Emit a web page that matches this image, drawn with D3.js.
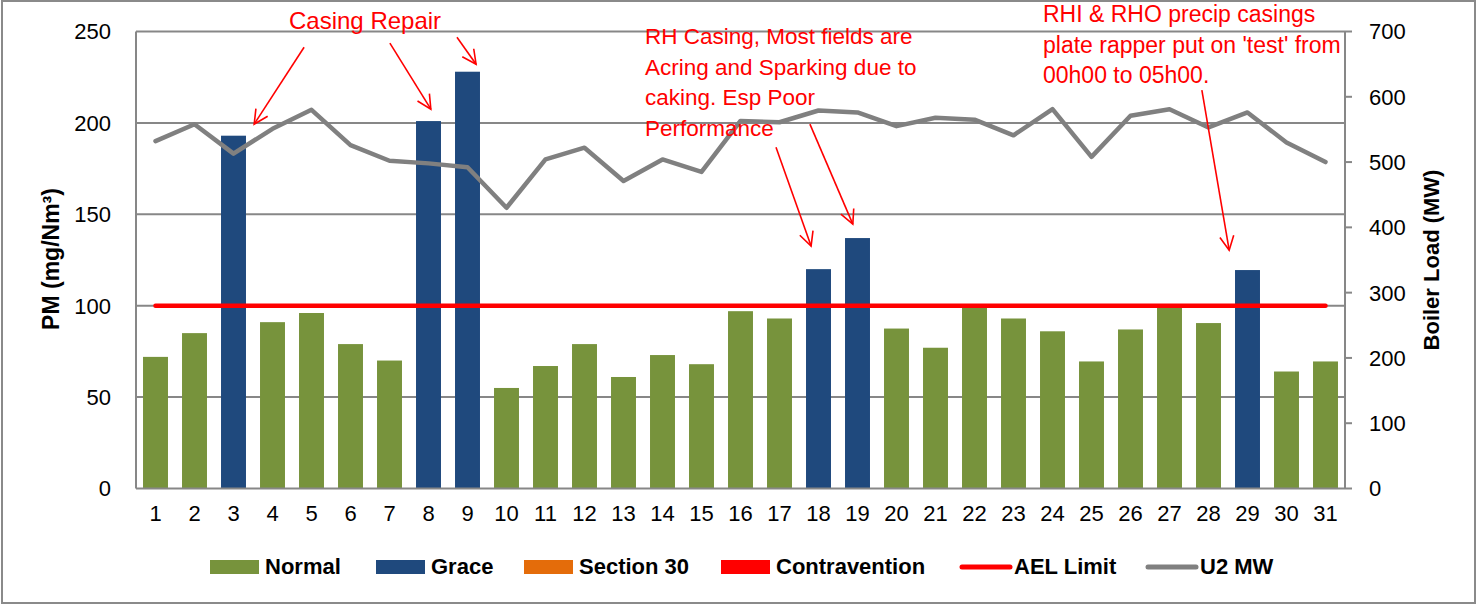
<!DOCTYPE html>
<html>
<head>
<meta charset="utf-8">
<script src="https://cdn.jsdelivr.net/npm/d3@7"></script>
<style>
  html, body { margin: 0; padding: 0; background: #fff; }
  svg { display: block; font-family: "Liberation Sans", Arial, sans-serif; }
</style>
</head>
<body>
<svg id="chart" width="1477" height="605"></svg>
<script>
// ---------------- DATA ----------------
const days = d3.range(1, 32).map(String);
const pmValues = [72, 85, 193, 91, 96, 79, 70, 201, 228, 55, 67, 79, 61, 73, 68, 97,
                  93, 120, 137, 87.5, 77, 99, 93, 86, 69.5, 87, 100, 90.5, 119.5, 64, 69.5];
const status = ["Normal","Normal","Grace","Normal","Normal","Normal","Normal","Grace","Grace","Normal",
                "Normal","Normal","Normal","Normal","Normal","Normal","Normal","Grace","Grace","Normal",
                "Normal","Normal","Normal","Normal","Normal","Normal","Normal","Normal","Grace","Normal","Normal"];
const mwValues = [532, 558, 513, 551, 580, 526, 502, 498, 492, 430, 504, 522, 471, 504, 485, 563,
                  561, 579, 576, 555, 568, 565, 541, 581, 508, 571, 581, 553, 576, 530, 500];
const aelLimit = 100;
const leftTicks = [0, 50, 100, 150, 200, 250];
const rightTicks = [0, 100, 200, 300, 400, 500, 600, 700];
const legendItems = ["Normal", "Grace", "Section 30", "Contravention", "AEL Limit", "U2 MW"];

// annotations: text lines and arrows given in (day, PM value) units
const annotations = [
  { lines: ["Casing Repair"], x: 289, y: 29, size: 24,
    arrows: [ [[4.81, 241.4], [3.53, 199.3]], [[7.01, 243.6], [8.06, 207.5]], [[8.73, 246.9], [9.22, 232.1]] ] },
  { lines: ["RH Casing, Most fields are", "Acring and Sparking due to", "caking. Esp Poor", "Performance"],
    x: 645, y: 44, size: 22.5,
    arrows: [ [[16.91, 186.7], [17.81, 132.6]], [[17.78, 199.3], [18.88, 144.6]] ] },
  { lines: ["RHI & RHO precip casings", "plate rapper put on 'test' from", "00h00 to 05h00."],
    x: 1043, y: 22, size: 23,
    arrows: [ [[27.83, 217.9], [28.53, 130.4]] ] }
];

// ---------------- STYLE ----------------
const colors = { Normal: "#77933C", Grace: "#1F497D", "Section 30": "#E46C0A",
                 Contravention: "#FF0000", "AEL Limit": "#FF0000", "U2 MW": "#808080" };
const gridColor = "#878787";
const margin = { left: 136, right: 1345, top: 31.5, bottom: 488.5 };

const svg = d3.select("#chart");

// border
svg.append("rect").attr("x", 2).attr("y", 1).attr("width", 1473).attr("height", 602)
  .attr("fill", "none").attr("stroke", "#8a8a8a").attr("stroke-width", 2);

// scales
const x = d3.scaleBand().domain(days).range([margin.left, margin.right])
  .paddingInner(0.36).paddingOuter(0.18);
const yL = d3.scaleLinear().domain([0, 250]).range([margin.bottom, margin.top]);
const yR = d3.scaleLinear().domain([0, 700]).range([margin.bottom, margin.top]);
const cx = d => x(d) + x.bandwidth() / 2;
const dayPos = d3.scaleLinear().domain([1, 31]).range([cx("1"), cx("31")]);

// gridlines
svg.append("g").selectAll("line").data(leftTicks.filter(t => t > 0)).join("line")
  .attr("x1", margin.left).attr("x2", margin.right)
  .attr("y1", d => yL(d)).attr("y2", d => yL(d))
  .attr("stroke", gridColor).attr("stroke-width", 2);

// bars
svg.append("g").selectAll("rect").data(days).join("rect")
  .attr("x", d => x(d)).attr("width", x.bandwidth())
  .attr("y", (d, i) => yL(pmValues[i]))
  .attr("height", (d, i) => yL(0) - yL(pmValues[i]))
  .attr("fill", (d, i) => colors[status[i]]);

// AEL limit line
svg.append("line")
  .attr("x1", cx(days[0])).attr("x2", cx(days[days.length - 1]))
  .attr("y1", yL(aelLimit)).attr("y2", yL(aelLimit))
  .attr("stroke", colors["AEL Limit"]).attr("stroke-width", 4.5).attr("stroke-linecap", "round");

// MW line
const line = d3.line().x(d => cx(d.day)).y(d => yR(d.v));
svg.append("path")
  .datum(days.map((d, i) => ({ day: d, v: mwValues[i] })))
  .attr("d", line).attr("fill", "none")
  .attr("stroke", colors["U2 MW"]).attr("stroke-width", 4.5)
  .attr("stroke-linejoin", "round").attr("stroke-linecap", "round");

// axes
const axisG = svg.append("g").attr("stroke", gridColor).attr("stroke-width", 2);
axisG.append("line").attr("x1", margin.left).attr("x2", margin.left).attr("y1", margin.top).attr("y2", margin.bottom);
axisG.append("line").attr("x1", margin.right).attr("x2", margin.right).attr("y1", margin.top).attr("y2", margin.bottom);
axisG.append("line").attr("x1", margin.left).attr("x2", margin.right).attr("y1", margin.bottom).attr("y2", margin.bottom);
axisG.selectAll(".rt").data(rightTicks).join("line").attr("class", "rt")
  .attr("x1", margin.right).attr("x2", margin.right + 7)
  .attr("y1", d => yR(d)).attr("y2", d => yR(d));

const tickFont = 22;
svg.append("g").selectAll("text").data(leftTicks).join("text")
  .attr("x", 111).attr("y", d => yL(d)).attr("dy", "0.36em")
  .attr("text-anchor", "end").attr("font-size", tickFont).attr("fill", "#000")
  .text(d => d);
svg.append("g").selectAll("text").data(rightTicks).join("text")
  .attr("x", 1369).attr("y", d => yR(d)).attr("dy", "0.36em")
  .attr("text-anchor", "start").attr("font-size", tickFont).attr("fill", "#000")
  .text(d => d);
svg.append("g").selectAll("text").data(days).join("text")
  .attr("x", d => cx(d)).attr("y", 521)
  .attr("text-anchor", "middle").attr("font-size", tickFont).attr("fill", "#000")
  .text(d => d);

// axis titles
svg.append("text").attr("transform", "translate(59,259) rotate(-90)")
  .attr("text-anchor", "middle").attr("font-size", 23).attr("font-weight", "bold")
  .text("PM (mg/Nm³)");
svg.append("text").attr("transform", "translate(1439,260) rotate(-90)")
  .attr("text-anchor", "middle").attr("font-size", 22).attr("font-weight", "bold")
  .text("Boiler Load (MW)");

// legend
const legendPos = [210, 376, 524, 721, 959, 1145];
const lg = svg.append("g");
legendItems.forEach((name, i) => {
  const lx = legendPos[i];
  if (name === "AEL Limit" || name === "U2 MW") {
    lg.append("line").attr("x1", lx + 3).attr("x2", lx + 51).attr("y1", 567).attr("y2", 567)
      .attr("stroke", colors[name]).attr("stroke-width", 5).attr("stroke-linecap", "round");
  } else {
    lg.append("rect").attr("x", lx).attr("y", 560).attr("width", 49).attr("height", 14)
      .attr("fill", colors[name]);
  }
  lg.append("text").attr("x", lx + 55).attr("y", 574)
    .attr("font-size", 22).attr("font-weight", "bold").attr("fill", "#000").text(name);
});

// annotations
const defs = svg.append("defs");
defs.append("marker").attr("id", "arrowhead")
  .attr("markerUnits", "userSpaceOnUse").attr("markerWidth", 20).attr("markerHeight", 20)
  .attr("refX", 15).attr("refY", 8).attr("orient", "auto")
  .append("path").attr("d", "M1,1 L15,8 L1,15").attr("fill", "none")
  .attr("stroke", "#FF0000").attr("stroke-width", 1.6);

const ag = svg.append("g");
annotations.forEach(a => {
  const t = ag.append("text").attr("x", a.x).attr("y", a.y)
    .attr("font-size", a.size).attr("fill", "#FF0000");
  a.lines.forEach((ln, i) => {
    t.append("tspan").attr("x", a.x).attr("y", a.y + i * 30.7).text(ln);
  });
  a.arrows.forEach(([from, to]) => {
    ag.append("line")
      .attr("x1", dayPos(from[0])).attr("y1", yL(from[1]))
      .attr("x2", dayPos(to[0])).attr("y2", yL(to[1]))
      .attr("stroke", "#FF0000").attr("stroke-width", 1.6)
      .attr("marker-end", "url(#arrowhead)");
  });
});
</script>
</body>
</html>
